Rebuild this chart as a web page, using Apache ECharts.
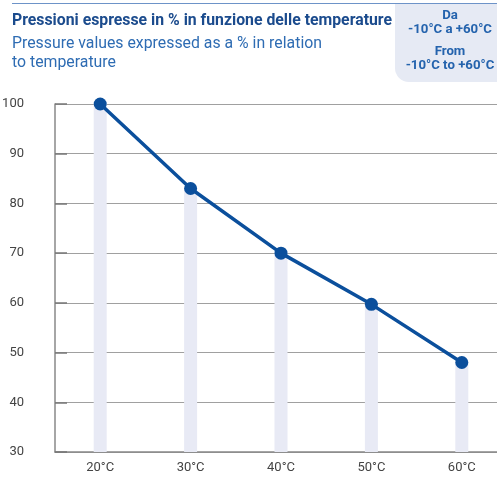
<!DOCTYPE html>
<html><head><meta charset="utf-8">
<script src="https://cdn.jsdelivr.net/npm/echarts@6/dist/echarts.min.js"></script>
<style>html,body{margin:0;padding:0;background:#fff}#c{width:497px;height:479px}</style>
</head><body><div id="c"></div>
<script>
const categories = ['20°C', '30°C', '40°C', '50°C', '60°C'];
const pressureValues = [100, 83, 70, 59.7, 48];
const yTicks = { min: 30, max: 100, interval: 10 };
const titleText = 'Pressioni espresse in % in funzione delle temperature';
const subtitleLines = ['Pressure values expressed as a % in relation', 'to temperature'];
const boxLines = ['Da', '-10°C a +60°C', 'From', '-10°C to +60°C'];

const ctx = document.createElement('canvas').getContext('2d');
function fitScale(text, font, w) { ctx.font = font; return w / ctx.measureText(text).width; }

const FF = 'Roboto';
const titleFont = 'bold 16px ' + FF;
const subFont = '16px ' + FF;
const boxFont = 'bold 13.5px ' + FF;
const titleS = fitScale(titleText, titleFont, 380);
const subS = fitScale(subtitleLines[0], subFont, 310);
const boxS = fitScale(boxLines[1], boxFont, 84);

const graphics = [
  { type: 'rect', shape: { x: 395, y: 4, width: 120, height: 78, r: [0, 0, 0, 14] }, style: { fill: '#e6eaf4' }, z: 1 },
  { type: 'line', shape: { x1: 12, y1: 3.5, x2: 497, y2: 3.5 }, style: { stroke: '#6d93c8', lineWidth: 1 }, z: 2 },
  { type: 'text', x: 12, y: 21, scaleX: titleS, style: { text: titleText, font: titleFont, fill: '#1b4b8d', textVerticalAlign: 'middle' }, z: 3 },
  { type: 'text', x: 12, y: 43.5, scaleX: subS, style: { text: subtitleLines[0], font: subFont, fill: '#2e6cb3', textVerticalAlign: 'middle' }, z: 3 },
  { type: 'text', x: 12, y: 63, scaleX: subS, style: { text: subtitleLines[1], font: subFont, fill: '#2e6cb3', textVerticalAlign: 'middle' }, z: 3 }
];
const boxY = [15.5, 30, 52, 65.5];
boxLines.forEach((t, i) => {
  graphics.push({ type: 'text', x: 450, y: boxY[i], scaleX: boxS, style: { text: t, font: boxFont, fill: '#2463ad', textAlign: 'center', textVerticalAlign: 'middle' }, z: 3 });
});

const chart = echarts.init(document.getElementById('c'));
chart.setOption({
  animation: false,
  graphic: graphics,
  grid: { left: 55, top: 104, width: 452, height: 348, containLabel: false, outerBoundsMode: 'none' },
  xAxis: {
    type: 'category', data: categories, boundaryGap: true,
    axisLine: { lineStyle: { color: '#888', width: 1.5 } },
    axisTick: { inside: true, length: 8, lineStyle: { color: '#777', width: 1 } },
    axisLabel: { color: '#444', fontSize: 13, fontFamily: FF, margin: 9 }
  },
  yAxis: {
    type: 'value', min: yTicks.min, max: yTicks.max, interval: yTicks.interval,
    axisLine: { show: true, lineStyle: { color: '#888', width: 1.5 } },
    axisTick: { show: true, inside: true, length: 12, lineStyle: { color: '#777', width: 1.5 } },
    splitLine: { lineStyle: { color: '#a0a0a0', width: 1 } },
    axisLabel: { color: '#444', fontSize: 13, fontFamily: FF, margin: 31 }
  },
  series: [
    { type: 'bar', data: pressureValues, barWidth: 13, itemStyle: { color: '#e8eaf5' }, z: 1, silent: true },
    { type: 'line', data: pressureValues, z: 5, symbol: 'circle', symbolSize: 13,
      lineStyle: { color: '#0b4f9c', width: 3.5 }, itemStyle: { color: '#0b4f9c' } }
  ]
});
</script></body></html>
